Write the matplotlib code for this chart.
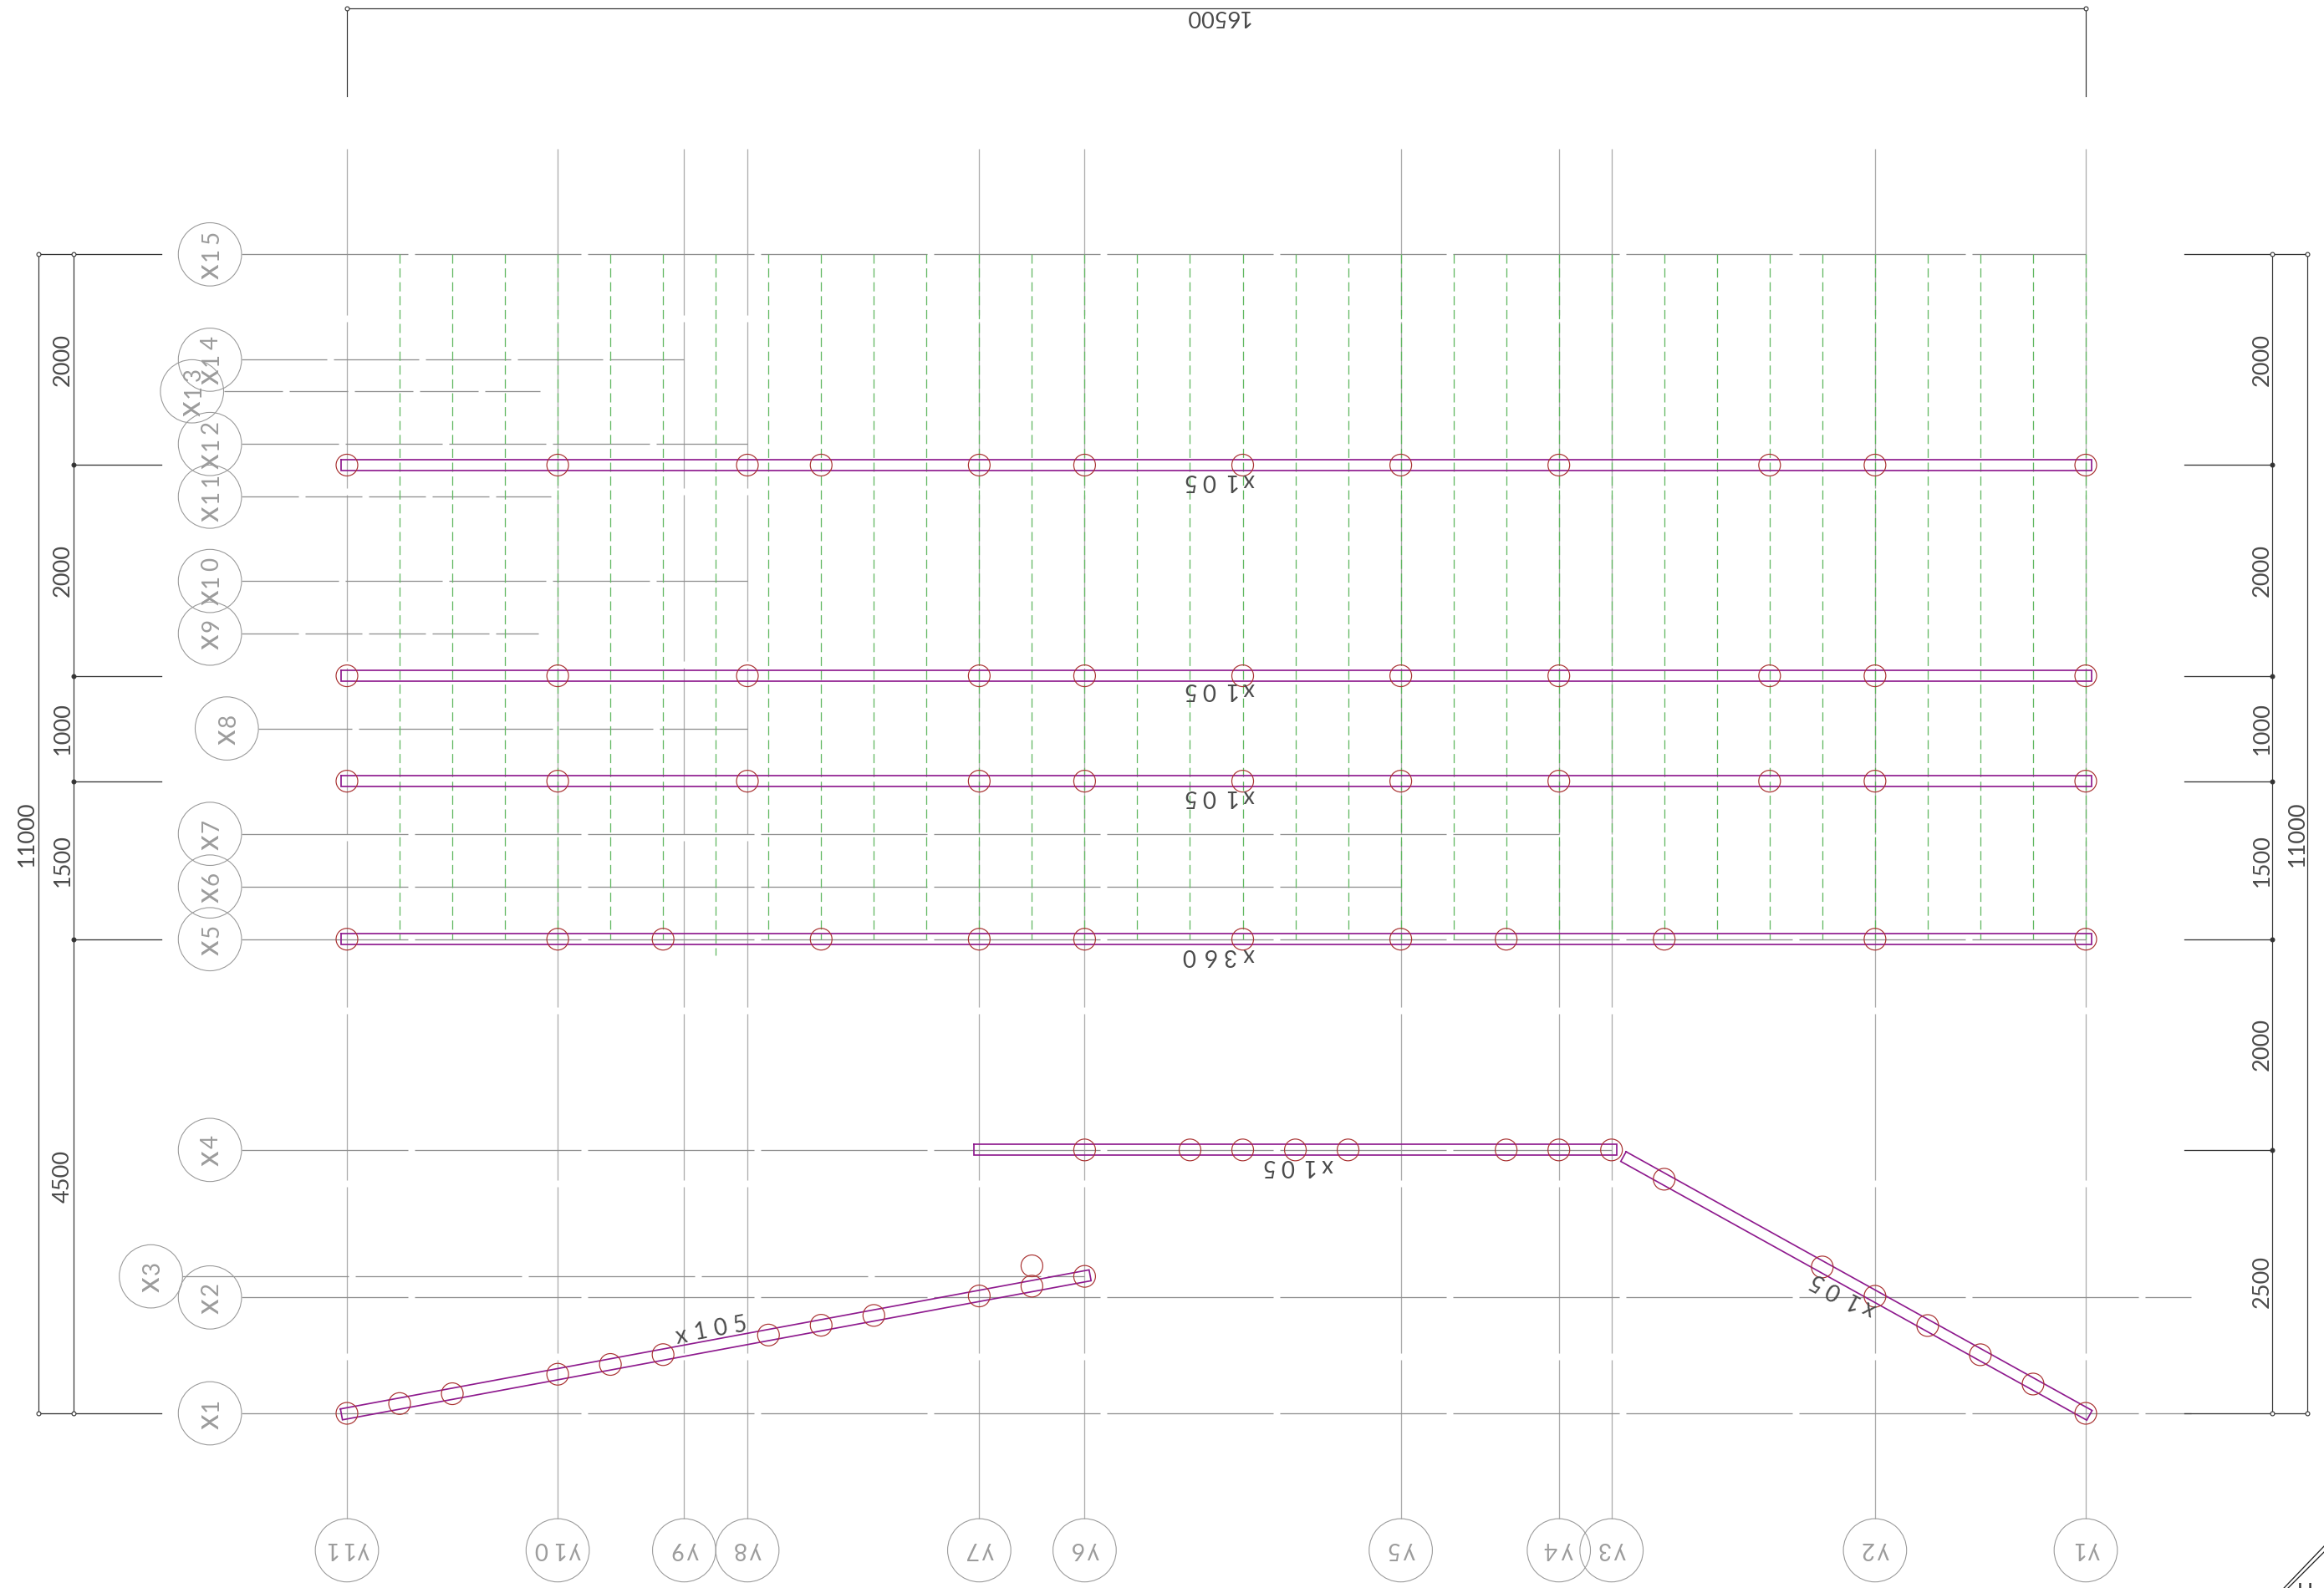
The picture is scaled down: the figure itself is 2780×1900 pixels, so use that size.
import numpy as np
import matplotlib
matplotlib.use("Agg")
import matplotlib.pyplot as plt
from matplotlib.patches import Circle

plt.rcParams['font.family'] = ['Lato', 'DejaVu Sans']
plt.rcParams['lines.scale_dashes'] = False

################################################################################
# Drawing data, everything in mm
grid_y_names = ['y1', 'y2', 'y3', 'y4', 'y5', 'y6', 'y7', 'y8', 'y9', 'y10', 'y11']
grid_y_pos   = [16500, 14500, 12000, 11500, 10000, 7000, 6000, 3800, 3200, 2000, 0]

grid_x_names  = ['x1', 'x2', 'x3', 'x4', 'x5', 'x6', 'x7', 'x8', 'x9', 'x10', 'x11', 'x12', 'x13', 'x14', 'x15']
grid_x_pos    = [0, 1100, 1300, 2500, 4500, 5000, 5500, 6500, 7400, 7900, 8700, 9200, 9700, 10000, 11000]
grid_x_end    = [17500, 17500, 7000, 12000, 16500, 10000, 11500, 3800, 1820, 3800, 1935, 3800, 1835, 3200, 16500]
grid_x_bubble = [-1300, -1300, -1860, -1300, -1300, -1300, -1300, -1140, -1300, -1300, -1300, -1300, -1470, -1300, -1300]
grid_x_period = [207, 207, 207, 207, 207, 207, 207, 120, 76, 124, 76, 124, 78, 110, 207]

joist_x = [500, 1000, 1500, 2000, 2500, 3000, 3500, 4000, 4500, 5000, 5500, 6000,
           6500, 7000, 7500, 8000, 8500, 9000, 9500, 10000, 10500, 11000, 11500,
           12000, 12500, 13000, 13500, 14000, 14500, 15000, 15500, 16000, 16500]
joist_bottom = [4500, 4500, 4500, 4500, 4500, 4500, 4350, 4500, 4500, 4500, 4500, 4500,
                4500, 4500, 4500, 4500, 4500, 4500, 4500, 4500, 4500, 4500, 4500,
                4500, 4500, 4500, 4500, 4500, 4500, 4500, 4500, 4500, 4500]

# beam centre lines (x0, y0, x1, y1)
beam_ends = [(-52, 9000, 16552, 9000),
             (-52, 7000, 16552, 7000),
             (-52, 6000, 16552, 6000),
             (-52, 4500, 16552, 4500),
             (5950, 2500, 12050, 2500),
             (-52, -10, 7052, 1310),
             (12113, 2437, 16535, -19)]

nodes_9000_x = [0, 2000, 3800, 4500, 6000, 7000, 8500, 10000, 11500, 13500, 14500, 16500]
nodes_7000_x = [0, 2000, 3800, 6000, 7000, 8500, 10000, 11500, 13500, 14500, 16500]
nodes_6000_x = [0, 2000, 3800, 6000, 7000, 8500, 10000, 11500, 13500, 14500, 16500]
nodes_4500_x = [0, 2000, 3000, 4500, 6000, 7000, 8500, 10000, 11000, 12500, 14500, 16500]
nodes_2500_x = [7000, 8000, 8500, 9000, 9500, 11000, 11500, 12000]
nodes_left_x = [0, 500, 1000, 2000, 2500, 3000, 4000, 4500, 5000, 6000, 6500, 7000, 6500]
nodes_left_y = [0, 93, 186, 371, 464, 557, 743, 836, 929, 1114, 1207, 1300, 1400]
nodes_right_x = [12500, 14000, 14500, 15000, 15500, 16000, 16500]
nodes_right_y = [2222, 1389, 1111, 833, 556, 278, 0]

beam_labels = ['x105', 'x105', 'x105', 'x360', 'x105', 'x105', 'x105']
label_x     = [8275, 8275, 8275, 8275, 9020, 3448, 14184]
label_y     = [8838, 6853, 5840, 4334, 2336, 802, 1110]
label_rot   = [180, 180, 180, 180, 180, 10.5, 152]

dim_left_lv   = [11000, 9000, 7000, 6000, 4500, 0]
dim_right_lv  = [11000, 9000, 7000, 6000, 4500, 2500, 0]

################################################################################
S   = 2080/16500.0     # px per mm
X0  = 415.0
Y0  = 1691.0
PX  = 0.72             # one pixel in points, dpi=100

def dashes(on, off):
    return (0, (on*PX, off*PX))

def spaced_text(x, y, s, rot, spacing, size, color, big_x=1.0):
    # one glyph at a time, the drawing font has wide and even letter spacing
    t = np.radians(rot)
    d = np.array([np.cos(t), np.sin(t)])
    u = np.array([-np.sin(t), np.cos(t)])
    em = size*100/72.0/S
    for k, c in enumerate(s):
        p = np.array([x, y]) + d*(k - (len(s) - 1)/2.0)*spacing/S - u*0.36*em
        fs = size
        if c == 'y':
            p = p + u*0.2*em
        if c == 'x':
            fs = size*big_x
        ax.text(p[0], p[1], c, rotation=rot, ha='center', va='baseline', fontsize=fs, color=color,
                rotation_mode='anchor', zorder=5)

fig = plt.figure(figsize=(27.8, 19), dpi=100)
ax = fig.add_axes([0, 0, 1, 1])
ax.set_xlim(-X0/S, (2780 - X0)/S)
ax.set_ylim((Y0 - 1900)/S, Y0/S)
ax.axis('off')

GRID_X = '#8f8f8f'
GRID_Y = '#adadad'
BUBBLE = '#9a9a9a'
LABEL  = '#9c9c9c'
GREEN  = '#62b862'
PURPLE = '#8e1a8e'
RED    = '#a93232'
DIM    = '#333333'
TEXT   = '#4a4a4a'

# grid lines and bubbles
for i in range(len(grid_y_pos)):
    ax.plot([grid_y_pos[i], grid_y_pos[i]], [12000, -1000], color=GRID_Y, lw=1.3*PX,
            ls=dashes(199, 8), zorder=1)
    ax.add_patch(Circle((grid_y_pos[i], -1300), 300, fc='none', ec=BUBBLE, lw=1.1*PX, zorder=2))
    spaced_text(grid_y_pos[i], -1300, grid_y_names[i], 180, 20, 20, LABEL)

for i in range(len(grid_x_pos)):
    ax.plot([grid_x_bubble[i] + 300, grid_x_end[i]], [grid_x_pos[i], grid_x_pos[i]], color=GRID_X,
            lw=1.3*PX, ls=dashes(grid_x_period[i] - 8, 8), zorder=1)
    ax.add_patch(Circle((grid_x_bubble[i], grid_x_pos[i]), 300, fc='none', ec=BUBBLE, lw=1.1*PX, zorder=2))
    spaced_text(grid_x_bubble[i], grid_x_pos[i], grid_x_names[i], 90, 20, 20, LABEL, big_x=1.35)

# joists
for i in range(len(joist_x)):
    ax.plot([joist_x[i], joist_x[i]], [11000, joist_bottom[i]], color=GREEN, lw=1.3*PX,
            ls=dashes(11, 5.6), zorder=1.5)

# beams as outlines, 105 wide
for b in beam_ends:
    d = np.array([b[2] - b[0], b[3] - b[1]], dtype=float)
    d = d/np.linalg.norm(d)
    n = np.array([-d[1], d[0]])*52.5
    p0 = np.array(b[:2], dtype=float)
    p1 = np.array(b[2:], dtype=float)
    rect = np.array([p0 + n, p1 + n, p1 - n, p0 - n, p0 + n])
    ax.plot(rect[:, 0], rect[:, 1], color=PURPLE, lw=1.7*PX, solid_joinstyle='miter', zorder=3)

# column nodes
node_x = nodes_9000_x + nodes_7000_x + nodes_6000_x + nodes_4500_x + nodes_2500_x + nodes_left_x + nodes_right_x
node_y = ([9000]*len(nodes_9000_x) + [7000]*len(nodes_7000_x) + [6000]*len(nodes_6000_x)
          + [4500]*len(nodes_4500_x) + [2500]*len(nodes_2500_x) + nodes_left_y + nodes_right_y)
for x, y in zip(node_x, node_y):
    ax.add_patch(Circle((x, y), 103, fc='none', ec=RED, lw=1.2*PX, zorder=4))

for i in range(len(beam_labels)):
    spaced_text(label_x[i], label_y[i], beam_labels[i], label_rot[i], 24, 20, TEXT)

# dimensions
top_y = 13335
ax.plot([0, 16500], [top_y, top_y], color=DIM, lw=1.2*PX, zorder=2)
ax.plot([0, 0], [top_y, 12500], color=DIM, lw=1.2*PX, zorder=2)
ax.plot([16500, 16500], [top_y, 12500], color=DIM, lw=1.2*PX, zorder=2)
ax.plot([0, 16500], [top_y, top_y], ls='none', marker='o', ms=3.5, mfc='white', mec=DIM, mew=0.8, zorder=3)
ax.text(8250, 13260, '16500', rotation=180, ha='center', va='center', fontsize=19.5, color=TEXT,
        rotation_mode='anchor')

for lv, inner, outer, stop, t_x, out_t in [(dim_left_lv, -2594, -2927, -1761, -2697, -3038),
                                           (dim_right_lv, 18269, 18602, 17436, 18174, 18507)]:
    ax.plot([inner, inner], [lv[0], lv[-1]], color=DIM, lw=1.2*PX, zorder=2)
    ax.plot([outer, outer], [lv[0], lv[-1]], color=DIM, lw=1.2*PX, zorder=2)
    for j, y in enumerate(lv):
        ends = (j == 0 or j == len(lv) - 1)
        start = outer if ends else inner
        ax.plot([start, stop], [y, y], color=DIM, lw=1.3*PX, zorder=2)
        ax.plot([inner], [y], ls='none', marker='o', ms=3.5, mfc='white' if ends else DIM, mec=DIM, mew=0.8, zorder=3)
        if ends:
            ax.plot([outer], [y], ls='none', marker='o', ms=3.5, mfc='white', mec=DIM, mew=0.8, zorder=3)
        if j > 0:
            ax.text(t_x, (y + lv[j-1])/2.0, str(lv[j-1] - y), rotation=90, ha='center', va='center',
                    fontsize=19.5, color=TEXT, rotation_mode='anchor')
    ax.text(out_t, lv[0]/2.0, str(lv[0]), rotation=90, ha='center', va='center', fontsize=19.5, color=TEXT,
            rotation_mode='anchor')

# title block corner, mostly cut off by the frame
ax.plot([18761, 18381], [(Y0 - 1850)/S, (Y0 - 1900)/S], color='#222222', lw=1.3*PX)
ax.plot([18761, 18420], [(Y0 - 1857)/S, (Y0 - 1900)/S], color='#222222', lw=1.3*PX)
ax.text((2757 - X0)/S, (Y0 - 1893)/S, 'H', ha='center', va='top', fontsize=18, color='#333333', clip_on=True)

fig.savefig('out.png', dpi=100, facecolor='white')
